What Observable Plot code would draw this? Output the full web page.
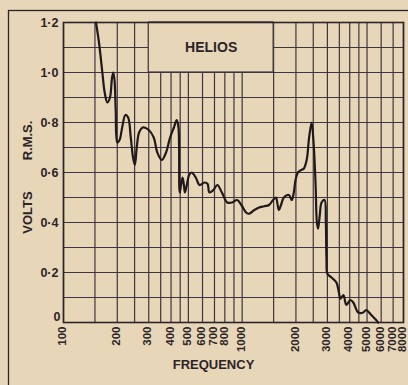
<!DOCTYPE html>
<html><head><meta charset="utf-8">
<script src="https://cdn.jsdelivr.net/npm/d3@7"></script>
<script src="https://cdn.jsdelivr.net/npm/@observablehq/plot@0.6"></script>
<style>
html,body{margin:0;padding:0;background:#e8d6b8;}
svg{display:block;}
</style></head><body><div id="chart"></div>
<script>
// Response curve (frequency in Hz, volts r.m.s.)
const freq = [152,158,165,170,176,182,187,190,193,196,200,206,213,222,230,238,245,251,257,265,278,300,320,335,355,375,395,415,430,440,447,455,464,472,478,490,505,521,550,577,615,640,656,690,726,770,825,880,938,990,1052,1094,1170,1243,1330,1413,1490,1545,1580,1606,1650,1712,1824,1896,1945,1990,2050,2140,2210,2297,2370,2449,2510,2577,2620,2660,2720,2783,2892,2940,2966,3000,3162,3370,3480,3548,3687,3831,4033,4190,4467,4760,4947,5280,5623,5770];
const volts = [1.2,1.12,1.0,0.92,0.88,0.9,0.98,1.0,0.97,0.85,0.72,0.73,0.78,0.83,0.82,0.74,0.66,0.63,0.70,0.76,0.78,0.77,0.74,0.68,0.65,0.68,0.74,0.78,0.81,0.78,0.52,0.55,0.58,0.55,0.52,0.55,0.59,0.60,0.58,0.55,0.56,0.555,0.52,0.53,0.55,0.52,0.48,0.48,0.49,0.47,0.44,0.435,0.45,0.46,0.465,0.47,0.49,0.50,0.47,0.45,0.47,0.50,0.51,0.49,0.52,0.57,0.60,0.61,0.615,0.65,0.74,0.80,0.72,0.55,0.40,0.375,0.43,0.48,0.49,0.40,0.25,0.195,0.18,0.16,0.12,0.095,0.11,0.07,0.09,0.08,0.04,0.04,0.05,0.03,0.01,0.0];

const xTicks = [100,200,300,400,500,600,700,800,1000,2000,3000,4000,5000,6000,7000,8000];
const xGrid = [100,150,200,250,300,350,400,450,500,600,700,800,900,1000,1500,2000,2500,3000,3500,4000,4500,5000,6000,7000,8000];
const yTicks = [0.2,0.4,0.6,0.8,1.0,1.2];
const yZeroTick = [0];
const yGrid = [0,0.1,0.2,0.3,0.4,0.5,0.6,0.7,0.8,0.9,1.0,1.1,1.2];
const titleText = "HELIOS";
const titleBox = {x1: 300, x2: 1500, y1: 1.0, y2: 1.2};
const xLabel = "FREQUENCY";
const yLabelA = "VOLTS";
const yLabelB = "R.M.S.";

const paper = "#e8d6b8";
const ink = "#2b2428";
const gridInk = "#3e3640";
const font = "Liberation Sans, Arial, sans-serif";

const data = freq.map((f, i) => ({f, v: volts[i]}));

const chart = Plot.plot({
  width: 408,
  height: 385,
  marginLeft: 63,
  marginRight: 5,
  marginTop: 22,
  marginBottom: 63,
  style: {background: paper, color: ink, fontFamily: font},
  x: {type: "log", domain: [100, 8000], axis: null},
  y: {domain: [0, 1.2], axis: null},
  marks: [
    Plot.frame({stroke: ink, strokeWidth: 1.3, insetLeft: -55, insetTop: -12, insetRight: -20, insetBottom: -120}),
    Plot.ruleX(xGrid, {stroke: gridInk, strokeWidth: 1.2}),
    Plot.ruleY(yGrid, {stroke: gridInk, strokeWidth: 1.2}),
    Plot.rect([titleBox], {x1: "x1", x2: "x2", y1: "y1", y2: "y2", fill: paper, stroke: gridInk, strokeWidth: 1.2}),
    Plot.text([titleText], {x: Math.sqrt(titleBox.x1 * titleBox.x2), y: (titleBox.y1 + titleBox.y2) / 2, text: d => d, fontSize: 14, fontWeight: "bold", fill: ink}),
    Plot.frame({stroke: ink, strokeWidth: 1.6}),
    Plot.line(data, {x: "f", y: "v", curve: "catmull-rom", stroke: "#1f191b", strokeWidth: 2.2}),
    Plot.text(xTicks, {x: d => d, y: 0, text: d => String(d), rotate: -90, textAnchor: "end", lineAnchor: "middle", dx: -1, dy: 4, fontSize: 11.5, fontWeight: "bold", fill: ink}),
    Plot.text(yTicks, {x: 100, y: d => d, text: d => d.toFixed(1).replace(".", "·"), textAnchor: "end", dx: -5, fontSize: 12.5, fontWeight: "bold", fill: ink}),
    Plot.text(yZeroTick, {x: 100, y: d => d, text: d => String(d), textAnchor: "end", dx: -3, dy: -6, fontSize: 12.5, fontWeight: "bold", fill: ink}),
    Plot.text([xLabel], {frameAnchor: "bottom", textAnchor: "middle", dx: -20, dy: 46, text: d => d, fontSize: 13, fontWeight: "bold", fill: ink, letterSpacing: "1px"}),
    Plot.text([yLabelA], {frameAnchor: "left", textAnchor: "middle", dx: -36, dy: 40, rotate: -90, text: d => d, fontSize: 13, fontWeight: "bold", fill: ink}),
    Plot.text([yLabelB], {frameAnchor: "left", textAnchor: "middle", dx: -36, dy: -32, rotate: -90, text: d => d, fontSize: 13, fontWeight: "bold", fill: ink})
  ]
});
document.getElementById("chart").append(chart);
</script>
</body></html>
